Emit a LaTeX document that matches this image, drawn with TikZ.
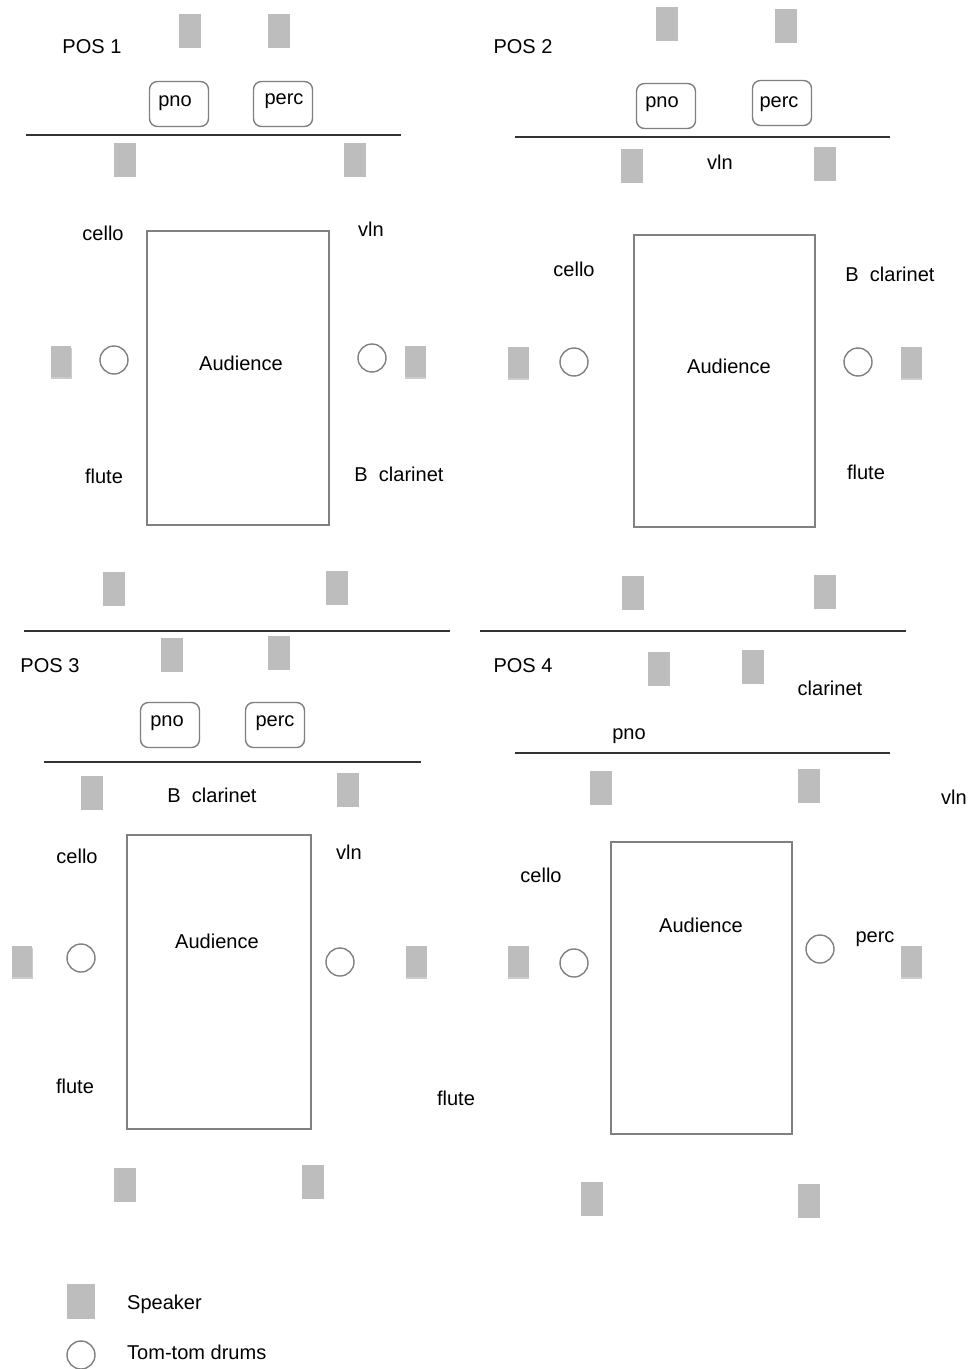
\documentclass[tikz,border=0pt]{standalone}
\usepackage{fontspec}
\setmainfont{Liberation Sans}
\usetikzlibrary{shadows}

\definecolor{spk}{HTML}{BDBDBD}
\definecolor{rim}{HTML}{808080}

\begin{document}
\begin{tikzpicture}[
        x=0.02cm,
        y=-0.02cm,
        speaker/.style={
            fill=spk,
            draw=none,
            inner sep=0pt,
            minimum width=0.44cm,
            minimum height=0.68cm
        },
        sidespeaker/.style={
            speaker,
            minimum width=0.42cm,
            minimum height=0.62cm,
            drop shadow={shadow xshift=0.2pt, shadow yshift=-1.4pt, opacity=0.4}
        },
        drum/.style={
            circle,
            draw=rim,
            line width=0.8pt,
            inner sep=0pt,
            minimum size=0.56cm
        },
        player/.style={
            draw=rim,
            line width=0.8pt,
            rounded corners=4.5pt,
            minimum width=1.18cm,
            minimum height=0.9cm
        },
        hall/.style={
            draw=rim,
            line width=0.8pt,
            inner sep=0pt
        },
        stage/.style={
            draw=black!80,
            line width=0.6pt
        },
        every node/.style={
            font=\fontsize{11.4}{13}\selectfont
        }
    ]

    \useasboundingbox (0,0) rectangle (971,1369);

    % POS 1
    \node (t1) at (92,47) {POS 1};
    \foreach \n/\x/\y in {a/190/31, b/279/31, c/125/160, d/355/160, e/114/589, f/337/588}
        \node[speaker] (s1\n) at (\x,\y) {};
    \node[player] (pno1) at (179,104) {};
    \node (pno1t) at (175,103) {pno};
    \node[player] (perc1) at (283,104) {};
    \node (perc1t) at (284,101) {perc};
    \draw[stage] (26,135) -- (401,135);
    \node[hall, minimum width=3.64cm, minimum height=5.88cm] (hall1) at (238,378) {};
    \node (aud1) at (241,363) {Audience};
    \node[sidespeaker] (s1l) at (61,361) {};
    \node[sidespeaker] (s1r) at (415,361) {};
    \node[drum] (d1l) at (114,360) {};
    \node[drum] (d1r) at (372,358) {};
    \node (cello1) at (103,233) {cello};
    \node (vln1) at (371,229) {vln};
    \node (flute1) at (104,476) {flute};
    \node (cl1) at (399,474) {B\ \ clarinet};

    % POS 2
    \node (t2) at (523,47) {POS 2};
    \foreach \n/\x/\y in {a/667/24, b/786/26, c/632/166, d/825/164, e/633/593, f/825/592}
        \node[speaker] (s2\n) at (\x,\y) {};
    \node[player] (pno2) at (666,106) {};
    \node (pno2t) at (662,104) {pno};
    \node[player] (perc2) at (782,103) {};
    \node (perc2t) at (779,104) {perc};
    \draw[stage] (515,137) -- (890,137);
    \node (vln2) at (720,162) {vln};
    \node[hall, minimum width=3.62cm, minimum height=5.84cm] (hall2) at (724.5,381) {};
    \node (aud2) at (729,366) {Audience};
    \node[sidespeaker] (s2l) at (518,362) {};
    \node[sidespeaker] (s2r) at (911,362) {};
    \node[drum] (d2l) at (574,362) {};
    \node[drum] (d2r) at (858,362) {};
    \node (cello2) at (574,269) {cello};
    \node (cl2) at (890,274) {B\ \ clarinet};
    \node (flute2) at (866,472) {flute};

    % Dividers
    \draw[stage] (24,631) -- (450,631);
    \draw[stage] (480,631) -- (906,631);

    % POS 3
    \node (t3) at (50,666) {POS 3};
    \foreach \n/\x/\y in {a/172/655, b/279/653, c/92/793, d/348/790, e/125/1185, f/313/1182}
        \node[speaker] (s3\n) at (\x,\y) {};
    \node[player] (pno3) at (170,725) {};
    \node (pno3t) at (167,723) {pno};
    \node[player] (perc3) at (275,725) {};
    \node (perc3t) at (275,723) {perc};
    \draw[stage] (44,762) -- (421,762);
    \node (cl3) at (212,795) {B\ \ clarinet};
    \node[hall, minimum width=3.68cm, minimum height=5.88cm] (hall3) at (219,982) {};
    \node (aud3) at (217,941) {Audience};
    \node[sidespeaker] (s3l) at (22,961) {};
    \node[sidespeaker] (s3r) at (416,961) {};
    \node[drum] (d3l) at (81,958) {};
    \node[drum] (d3r) at (340,962) {};
    \node (cello3) at (77,856) {cello};
    \node (vln3) at (349,852) {vln};
    \node (flute3) at (75,1086) {flute};
    \node (flute3b) at (456,1098) {flute};

    % POS 4
    \node (t4) at (523,666) {POS 4};
    \foreach \n/\x/\y in {a/659/669, b/753/667, c/601/788, d/809/786, e/592/1199, f/809/1201}
        \node[speaker] (s4\n) at (\x,\y) {};
    \node (cl4) at (830,688) {clarinet};
    \node (pno4) at (629,736) {pno};
    \draw[stage] (515,753) -- (890,753);
    \node (vln4) at (954,797) {vln};
    \node[hall, minimum width=3.62cm, minimum height=5.84cm] (hall4) at (701.5,988) {};
    \node (aud4) at (701,925) {Audience};
    \node[sidespeaker] (s4l) at (518,961) {};
    \node[sidespeaker] (s4r) at (911,961) {};
    \node[drum] (d4l) at (574,963) {};
    \node[drum] (d4r) at (820,949) {};
    \node (cello4) at (541,875) {cello};
    \node (perc4) at (875,939) {perc};

    % Legend
    \node[speaker, minimum width=0.58cm, minimum height=0.7cm] (keyspk) at (81,1301) {};
    \node[drum] (keydrum) at (81,1355) {};
    \node[anchor=west] (keyspkt) at (121,1304) {Speaker};
    \node[anchor=west] (keydrumt) at (121,1352) {Tom-tom drums};

\end{tikzpicture}
\end{document}
